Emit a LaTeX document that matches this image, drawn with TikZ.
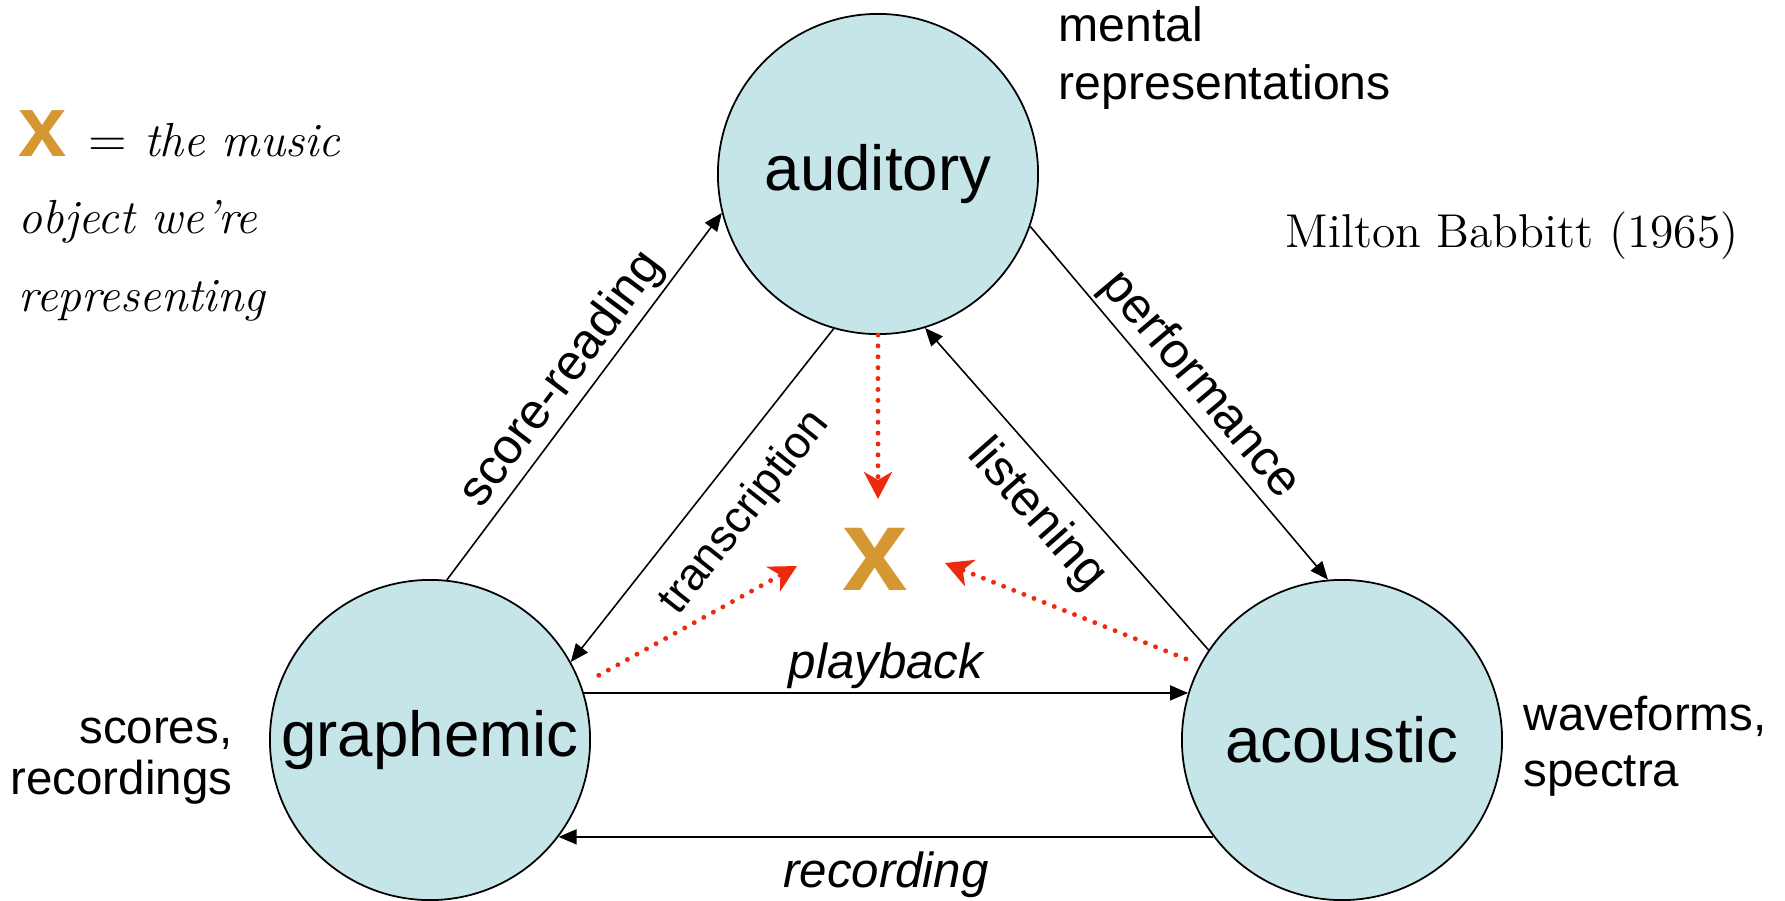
\documentclass[tikz,border=0pt]{standalone}
\usepackage{fontspec}
\setsansfont{Liberation Sans}
\usetikzlibrary{arrows.meta}
\definecolor{bubble}{RGB}{198,229,232}
\definecolor{objgold}{RGB}{213,151,50}
\definecolor{objred}{RGB}{238,42,14}
\begin{document}
\begin{tikzpicture}[x=0.01cm, y=-0.01cm,
  realm/.style={circle, draw, line width=0.5pt, fill=bubble, minimum size=3.2cm, inner sep=0pt, font=\fontsize{18.1}{20}\sffamily},
  side/.style={inner sep=0pt, font=\fontsize{13.5}{14.5}\sffamily},
  conv/.style={line width=0.45pt, -{Triangle[length=0.18cm, width=0.15cm]}},
  conv label/.style={font=\fontsize{14.2}{16}\sffamily, sloped, inner sep=1pt},
  flow label/.style={conv label, font=\fontsize{14}{16}\sffamily\itshape},
  toobj/.style={objred, line width=1.4pt, line cap=round, dash pattern=on 0pt off 3.1pt, -{Stealth[length=0.27cm, width=0.28cm, inset=0.08cm]}}]
\useasboundingbox (0,0) rectangle (1785,900);

% the three domains
\node[realm] (auditory) at (878,174) {auditory};
\node[realm] (graphemic) at (430,740) {graphemic};
\node[realm] (acoustic) at (1342,740) {acoustic};

% the music object
\node[text=objgold, font=\fontsize{33.5}{34}\sffamily\bfseries, inner sep=0pt] (obj) at (875,559) {x};
\coordinate (objN) at (878,499);
\coordinate (objW) at (797,566);
\coordinate (objE) at (945,563);

% what each domain holds
\node[side, align=left, anchor=west, font=\fontsize{13.7}{16.5}\sffamily] (mental) at (1058,58) {mental\\representations};
\node[side, align=right, anchor=east] (scores) at (233,761) {scores,\\recordings};
\node[side, align=left, anchor=west, font=\fontsize{13.5}{16}\sffamily] (waves) at (1523,746) {waveforms,\\spectra};

\node[anchor=base, inner sep=0pt, font=\fontsize{13.5}{15}\selectfont] (babbitt) at (1512,247) {Milton Babbitt (1965)};
\node[anchor=north west, inner sep=0pt, align=left, font=\fontsize{13.6}{22}\selectfont] (legend) at (18,110)
  {{\color{objgold}\fontsize{24.7}{22}\sffamily\bfseries x}\hspace{6pt}{\fontsize{15.4}{22}\selectfont$=$}\hspace{5pt}\textit{the music}\\ \textit{object we're}\\ \textit{representing}};

% transformations between domains
\draw[conv] (graphemic.84) -- (auditory.194) node[conv label, midway, above] {score-reading};
\draw[conv] (auditory.254) -- (graphemic.29) node[conv label, pos=0.47, below, inner sep=6.5pt, font=\fontsize{12.8}{16}\sffamily] {transcription};
\draw[conv] (auditory.341) -- (acoustic.95) node[conv label, midway, above] {performance};
\draw[conv] (acoustic.146) -- (auditory.287) node[conv label, midway, below, inner sep=4.5pt] {listening};
\draw[conv] (graphemic.17) -- (acoustic.163) node[flow label, midway, above] {playback};
\draw[conv] (acoustic.217) -- (graphemic.323) node[flow label, midway, below, inner sep=4pt] {recording};

% each domain points at the object
\draw[toobj] (auditory.south) -- (objN);
\draw[toobj, shorten <=0.2cm] (graphemic.20) -- (objW);
\draw[toobj, shorten <=0.15cm] (acoustic.152) -- (objE);
\end{tikzpicture}
\end{document}
